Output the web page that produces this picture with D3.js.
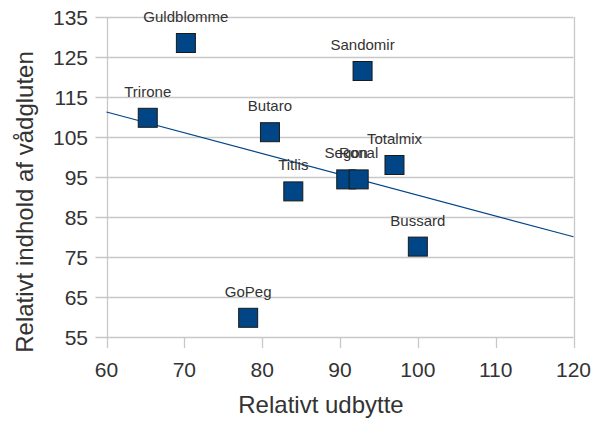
<!DOCTYPE html>
<html>
<head>
<meta charset="utf-8">
<script src="https://cdn.jsdelivr.net/npm/d3@7"></script>
<style>
  body { margin: 0; background: #fff; }
  text { font-family: "Liberation Sans", Arial, sans-serif; fill: #333; }
</style>
</head>
<body>
<script>
// data
var names = ["Guldblomme", "Sandomir", "Trirone", "Butaro", "Titlis", "Segon", "Ronal", "Totalmix", "Bussard", "GoPeg"];
var udbytte = [70.2, 92.9, 65.3, 81.0, 84.0, 90.8, 92.4, 97.0, 100.0, 78.2];
var gluten = [128.5, 121.5, 109.8, 106.2, 91.4, 94.4, 94.4, 98.0, 77.6, 59.8];
var xTicks = [60, 70, 80, 90, 100, 110, 120];
var yTicks = [55, 65, 75, 85, 95, 105, 115, 125, 135];

var width = 592, height = 421;
var plotL = 106.5, plotR = 573.5, plotT = 17, plotB = 337;

var svg = d3.select("body").append("svg")
  .attr("width", width)
  .attr("height", height)

var x = d3.scaleLinear().domain([60, 120]).range([plotL, plotR]);
var y = d3.scaleLinear().domain([55, 135]).range([plotB, plotT]);

// grid lines
svg.selectAll(".grid")
  .data(yTicks)
  .enter()
  .append("line")
  .attr("x1", plotL - 11)
  .attr("x2", plotR)
  .attr("y1", function(d) { return Math.round(y(d)) + 0.5; })
  .attr("y2", function(d) { return Math.round(y(d)) + 0.5; })
  .style("stroke", "#c8c8c8")
  .style("stroke-width", 1.3);

// x ticks
svg.selectAll(".xtick")
  .data(xTicks)
  .enter()
  .append("line")
  .attr("x1", function(d) { return Math.round(x(d)) + 0.5; })
  .attr("x2", function(d) { return Math.round(x(d)) + 0.5; })
  .attr("y1", function(d) { return d === 60 || d === 120 ? plotT : plotB; })
  .attr("y2", plotB + 11)
  .style("stroke", "#c8c8c8")
  .style("stroke-width", 1.3);

svg.selectAll(".xlab")
  .data(xTicks)
  .enter()
  .append("text")
  .attr("x", function(d) { return x(d); })
  .attr("y", 377)
  .attr("text-anchor", "middle")
  .style("font-size", "21px")
  .text(function(d) { return d; });

svg.selectAll(".ylab")
  .data(yTicks)
  .enter()
  .append("text")
  .attr("x", 88)
  .attr("y", function(d) { return y(d) + 7.5; })
  .attr("text-anchor", "end")
  .style("font-size", "21px")
  .text(function(d) { return d; });

// trend line (least squares)
var mx = d3.mean(udbytte), my = d3.mean(gluten);
var sxy = d3.sum(udbytte, function(v, i) { return (v - mx) * (gluten[i] - my); });
var sxx = d3.sum(udbytte, function(v) { return (v - mx) * (v - mx); });
var slope = sxy / sxx;
var icpt = my - slope * mx;

svg.append("line")
  .attr("x1", x(60))
  .attr("y1", y(icpt + slope * 60))
  .attr("x2", x(120))
  .attr("y2", y(icpt + slope * 120))
  .style("stroke", "#004586")
  .style("stroke-width", 1.2);

// points
var pts = names.map(function(n, i) { return {name: n, x: udbytte[i], y: gluten[i]}; });

svg.selectAll(".pt")
  .data(pts)
  .enter()
  .append("rect")
  .attr("x", function(d) { return x(d.x) - 9.5; })
  .attr("y", function(d) { return y(d.y) - 9.5; })
  .attr("width", 19)
  .attr("height", 19)
  .style("fill", "#004586")
  .style("stroke", "#1a1a1a")
  .style("stroke-width", 1);

svg.selectAll(".lbl")
  .data(pts)
  .enter()
  .append("text")
  .attr("x", function(d) { return x(d.x); })
  .attr("y", function(d) { return y(d.y) - 21; })
  .attr("text-anchor", "middle")
  .style("font-size", "15px")
  .text(function(d) { return d.name; });

// axis titles
svg.append("text")
  .attr("x", 321)
  .attr("y", 413)
  .attr("text-anchor", "middle")
  .style("font-size", "24px")
  .text("Relativt udbytte");

svg.append("text")
  .attr("transform", "translate(33,202) rotate(-90)")
  .attr("text-anchor", "middle")
  .style("font-size", "24px")
  .text("Relativt indhold af vådgluten");
</script>
</body>
</html>
